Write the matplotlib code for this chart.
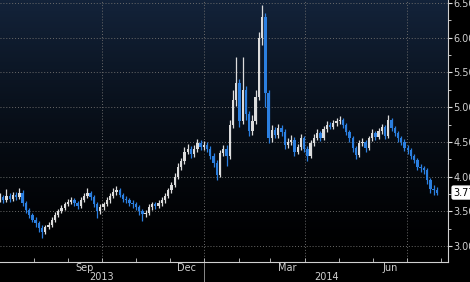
import numpy as np
import pandas as pd
import matplotlib
matplotlib.use('Agg')
import matplotlib.pyplot as plt
import matplotlib.dates as mdates

# ============ data ============
first_open = 3.68
closes = [3.70, 3.66, 3.72, 3.68, 3.74, 3.70, 3.76, 3.62, 3.52, 3.45,
          3.38, 3.33, 3.26, 3.20, 3.27, 3.30, 3.38, 3.45, 3.50, 3.55,
          3.60, 3.64, 3.66, 3.62, 3.58, 3.66, 3.72, 3.76, 3.70, 3.60,
          3.50, 3.56, 3.60, 3.66, 3.72, 3.78, 3.80, 3.74, 3.68, 3.66,
          3.62, 3.60, 3.56, 3.50, 3.46, 3.48, 3.56, 3.60, 3.58, 3.62,
          3.66, 3.72, 3.80, 3.88, 4.00, 4.14, 4.22, 4.36, 4.40, 4.32,
          4.40, 4.48, 4.42, 4.46, 4.40, 4.30, 4.20, 4.02, 4.34, 4.40,
          4.30, 4.75, 5.10, 5.35, 4.80, 5.25, 4.90, 4.65, 4.80, 5.15,
          6.00, 6.30, 5.20, 4.55, 4.67, 4.60, 4.70, 4.64, 4.45, 4.50,
          4.53, 4.36, 4.42, 4.55, 4.40, 4.30, 4.48, 4.56, 4.63, 4.56,
          4.68, 4.74, 4.72, 4.77, 4.80, 4.82, 4.74, 4.64, 4.55, 4.41,
          4.31, 4.48, 4.50, 4.41, 4.55, 4.63, 4.57, 4.66, 4.71, 4.58,
          4.82, 4.70, 4.63, 4.55, 4.50, 4.41, 4.38, 4.30, 4.24, 4.14,
          4.12, 4.09, 3.95, 3.82, 3.80, 3.77]
highs = [3.76, 3.74, 3.82, 3.76, 3.78, 3.78, 3.84, 3.80, 3.65, 3.55,
         3.48, 3.42, 3.36, 3.30, 3.31, 3.35, 3.42, 3.49, 3.54, 3.59,
         3.64, 3.68, 3.71, 3.69, 3.65, 3.70, 3.77, 3.83, 3.79, 3.73,
         3.63, 3.60, 3.64, 3.70, 3.76, 3.84, 3.86, 3.83, 3.77, 3.72,
         3.69, 3.66, 3.63, 3.59, 3.53, 3.52, 3.60, 3.64, 3.64, 3.66,
         3.70, 3.76, 3.84, 3.92, 4.05, 4.19, 4.27, 4.42, 4.47, 4.44,
         4.45, 4.54, 4.52, 4.51, 4.50, 4.44, 4.34, 4.24, 4.38, 4.46,
         4.46, 4.82, 5.25, 5.72, 5.40, 5.72, 5.30, 4.95, 4.88, 5.25,
         6.08, 6.47, 6.35, 5.25, 4.75, 4.72, 4.76, 4.75, 4.68, 4.56,
         4.60, 4.57, 4.47, 4.62, 4.58, 4.44, 4.52, 4.61, 4.69, 4.66,
         4.73, 4.80, 4.79, 4.82, 4.85, 4.87, 4.85, 4.77, 4.67, 4.58,
         4.44, 4.52, 4.56, 4.53, 4.59, 4.68, 4.66, 4.70, 4.76, 4.74,
         4.88, 4.85, 4.73, 4.66, 4.58, 4.54, 4.45, 4.41, 4.33, 4.27,
         4.18, 4.15, 4.12, 3.98, 3.88, 3.85]
lows = [3.64, 3.62, 3.63, 3.64, 3.65, 3.66, 3.68, 3.58, 3.48, 3.41,
        3.34, 3.28, 3.20, 3.12, 3.17, 3.24, 3.27, 3.35, 3.42, 3.47,
        3.52, 3.57, 3.60, 3.58, 3.54, 3.55, 3.63, 3.69, 3.66, 3.56,
        3.40, 3.46, 3.52, 3.57, 3.62, 3.69, 3.74, 3.70, 3.64, 3.62,
        3.58, 3.55, 3.52, 3.45, 3.36, 3.42, 3.45, 3.52, 3.54, 3.55,
        3.58, 3.62, 3.69, 3.77, 3.85, 3.97, 4.10, 4.18, 4.32, 4.27,
        4.28, 4.36, 4.38, 4.38, 4.35, 4.26, 4.14, 3.95, 4.00, 4.30,
        4.15, 4.26, 4.70, 5.02, 4.72, 4.76, 4.82, 4.58, 4.60, 4.76,
        5.10, 5.90, 5.00, 4.48, 4.50, 4.55, 4.56, 4.58, 4.40, 4.41,
        4.46, 4.30, 4.32, 4.38, 4.35, 4.22, 4.27, 4.44, 4.52, 4.51,
        4.53, 4.64, 4.68, 4.68, 4.73, 4.76, 4.70, 4.60, 4.50, 4.36,
        4.26, 4.28, 4.44, 4.36, 4.38, 4.51, 4.53, 4.54, 4.62, 4.54,
        4.55, 4.66, 4.58, 4.50, 4.45, 4.37, 4.33, 4.25, 4.19, 4.10,
        4.07, 4.04, 3.90, 3.77, 3.74, 3.73]
opens = [first_open] + closes[:-1]

dates = pd.date_range('2013-07-02', '2014-07-28', periods=len(closes))
last_price = closes[-1]

y_ticks = [3.00, 3.50, 4.00, 4.50, 5.00, 5.50, 6.00, 6.50]
month_labels = {'2013-09-16': 'Sep', '2013-12-16': 'Dec', '2014-03-16': 'Mar', '2014-06-16': 'Jun'}
quarter_lines = ['2013-10-01', '2014-01-01', '2014-04-01', '2014-07-01']

# ============ plotting ============
UP = '#dcdcdc'
DOWN = '#2b7fe0'

fig = plt.figure(figsize=(4.7, 2.82), dpi=100, facecolor='black')
ax = fig.add_axes([0, 20 / 282, 448 / 470, 262 / 282])
ax.set_facecolor('black')

# dark navy gradient at the top of the plot area
grad = np.linspace(1, 0, 256).reshape(-1, 1) ** 1.4
cmap = matplotlib.colors.LinearSegmentedColormap.from_list('bg', ['#000000', '#13233a'])
ax.imshow(grad, aspect='auto', cmap=cmap, extent=[0, 1, 0, 1], transform=ax.transAxes, zorder=0)

x = mdates.date2num(dates)
w = 2.1
for xi, o, h, l, c in zip(x, opens, highs, lows, closes):
    col = UP if c >= o else DOWN
    ax.vlines(xi, l, h, color=col, linewidth=0.9, zorder=3)
    ax.bar(xi, max(abs(c - o), 0.01), bottom=min(o, c), width=w, color=col, linewidth=0, zorder=4)

ax.set_xlim(mdates.date2num(pd.Timestamp('2013-07-02')), mdates.date2num(pd.Timestamp('2014-08-07')))
ax.set_ylim(2.77, 6.543)

# grid
for yv in y_ticks:
    ax.axhline(yv, color='#6a6a6a', linestyle=(0, (1, 2)), linewidth=0.7, zorder=1)
for d in quarter_lines:
    ax.axvline(mdates.date2num(pd.Timestamp(d)), color='#6a6a6a', linestyle=(0, (1, 2)), linewidth=0.7, zorder=1)

# y axis on the right
ax.yaxis.tick_right()
ax.set_yticks(y_ticks)
ax.set_yticklabels([f'{v:.2f}' for v in y_ticks])
ax.set_yticks([v + 0.25 for v in y_ticks[:-1]], minor=True)
ax.tick_params(axis='y', which='major', colors='#e0e0e0', labelcolor='#d0d0d0', labelsize=7,
               length=3, width=0.8, pad=1, direction='out')
ax.tick_params(axis='y', which='minor', colors='#e0e0e0', length=2, width=0.6, direction='out')

# x axis: monthly ticks, labels mid-month
month_starts = pd.date_range('2013-08-01', '2014-08-01', freq='MS')
ax.set_xticks(mdates.date2num(month_starts))
ax.set_xticklabels([''] * len(month_starts))
ax.tick_params(axis='x', which='major', colors='#c8c8c8', length=3, width=0.6, direction='in')
ax.set_xticks(mdates.date2num(pd.to_datetime(list(month_labels.keys()))), minor=True)
ax.set_xticklabels(list(month_labels.values()), minor=True)
ax.tick_params(axis='x', which='minor', length=0, labelcolor='#d0d0d0', labelsize=7, pad=1)

for s in ['top', 'left']:
    ax.spines[s].set_visible(False)
for s in ['bottom', 'right']:
    ax.spines[s].set_color('#d0d0d0')
    ax.spines[s].set_linewidth(0.8)

# year labels and separator
ax.text(mdates.date2num(pd.Timestamp('2013-10-01')), -0.058, '2013', transform=ax.get_xaxis_transform(),
        ha='center', va='center', color='#d0d0d0', fontsize=7)
ax.text(mdates.date2num(pd.Timestamp('2014-04-20')), -0.058, '2014', transform=ax.get_xaxis_transform(),
        ha='center', va='center', color='#d0d0d0', fontsize=7)
ax.plot([mdates.date2num(pd.Timestamp('2014-01-01'))] * 2, [-0.005, -0.08], transform=ax.get_xaxis_transform(),
        color='#a0a0a0', linewidth=0.6, clip_on=False)

# last price tag
ax.annotate(f'{last_price:.2f}', xy=(1.0, last_price), xycoords=('axes fraction', 'data'),
            xytext=(4, 0), textcoords='offset points', ha='left', va='center', fontsize=7, color='black',
            bbox=dict(boxstyle='round,pad=0.15', fc='white', ec='white'), zorder=10, annotation_clip=False)

plt.savefig('out.png', dpi=100, facecolor='black')
